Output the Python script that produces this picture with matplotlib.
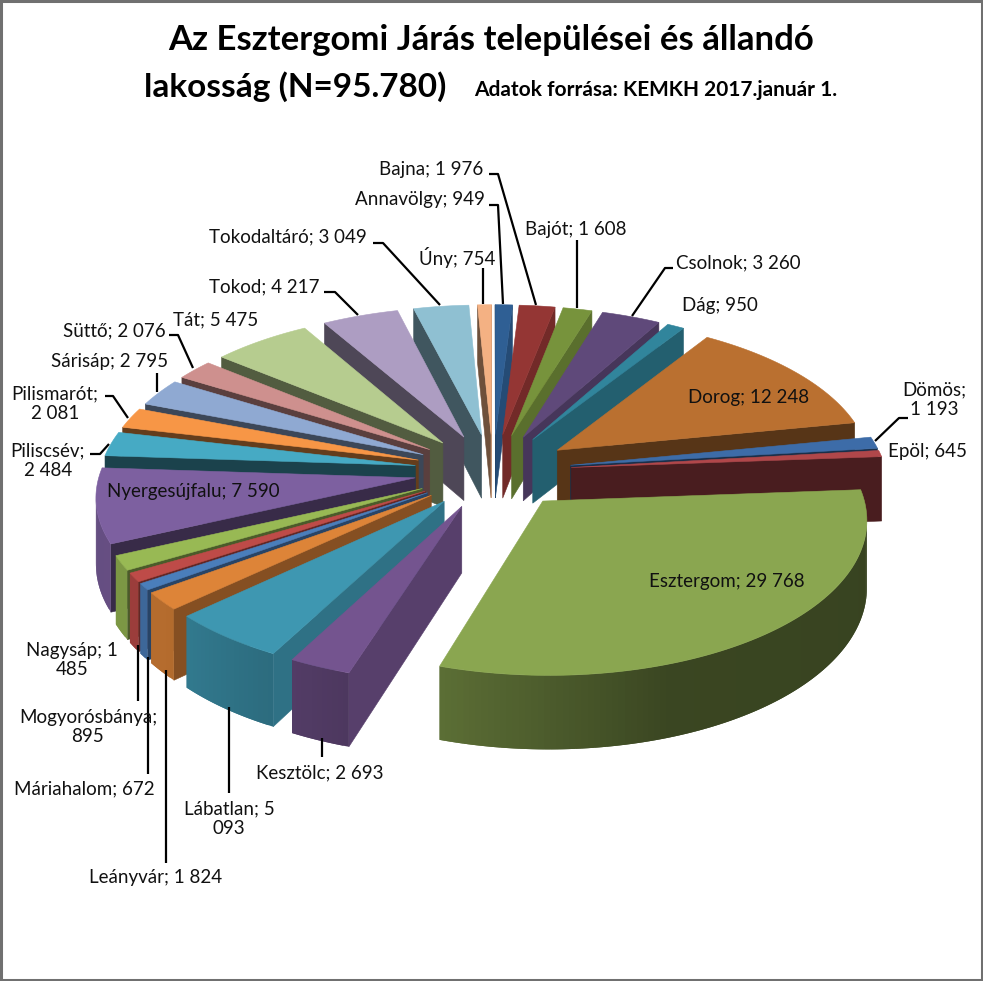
#!/usr/bin python3

import matplotlib
matplotlib.use('Agg')
import matplotlib.pyplot as plt
from matplotlib.patches import Polygon, Rectangle
import numpy as np

names = ['Annavölgy', 'Bajna', 'Bajót', 'Csolnok', 'Dág', 'Dorog', 'Dömös', 'Epöl',
         'Esztergom', 'Kesztölc', 'Lábatlan', 'Leányvár', 'Máriahalom', 'Mogyorósbánya',
         'Nagysáp', 'Nyergesújfalu', 'Piliscsév', 'Pilismarót', 'Sárisáp', 'Süttő',
         'Tát', 'Tokod', 'Tokodaltáró', 'Úny']
values = [949, 1976, 1608, 3260, 950, 12248, 1193, 645,
          29768, 2693, 5093, 1824, 672, 895,
          1485, 7590, 2484, 2081, 2795, 2076,
          5475, 4217, 3049, 754]
colors = ['#2F5F94', '#943634', '#77933C', '#5F497A', '#31859C', '#BA7030', '#3D6CA8', '#B0474A',
          '#8AA650', '#74548F', '#3E97B1', '#DD8438', '#4A7EBB', '#BE4B48',
          '#98B954', '#7D60A0', '#46AAC4', '#F79646', '#8FA9D2', '#CE908E',
          '#B6CC8F', '#AD9DC2', '#8FC0D2', '#F4B183']

# where a label has to break, as in the original
breaks = {'Dömös': 'Dömös;\n1 193', 'Lábatlan': 'Lábatlan; 5\n093', 'Mogyorósbánya': 'Mogyorósbánya;\n895',
          'Nagysáp': 'Nagysáp; 1\n485', 'Piliscsév': 'Piliscsév;\n2 484', 'Pilismarót': 'Pilismarót;\n2 081'}

label_pos = {'Annavölgy': (420, 199), 'Bajna': (431, 169), 'Bajót': (576, 229), 'Csolnok': (738, 263),
             'Dág': (720, 306), 'Dorog': (749, 397), 'Dömös': (934, 400), 'Epöl': (927, 452),
             'Esztergom': (727, 581), 'Kesztölc': (320, 773), 'Lábatlan': (229, 819), 'Leányvár': (156, 878),
             'Máriahalom': (84, 789), 'Mogyorósbánya': (88, 727), 'Nagysáp': (72, 660),
             'Nyergesújfalu': (193, 491), 'Piliscsév': (48, 461), 'Pilismarót': (55, 404),
             'Sárisáp': (110, 362), 'Süttő': (114, 331), 'Tát': (216, 320), 'Tokod': (264, 287),
             'Tokodaltáró': (288, 237), 'Úny': (457, 257)}

leaders = [[(489, 174), (498, 174), (536, 305)], [(489, 205), (498, 205), (503, 304)], [(577, 240), (577, 308)],
           [(673, 268), (665, 268), (632, 316)], [(483, 268), (483, 304)],
           [(373, 243), (383, 243), (440, 305)], [(324, 292), (335, 292), (358, 315)],
           [(169, 335), (178, 335), (193, 368)], [(157, 373), (157, 392)],
           [(105, 396), (113, 396), (128, 418)], [(90, 454), (100, 454), (109, 444)],
           [(908, 418), (899, 418), (875, 441)],
           [(138, 645), (138, 701)], [(148, 657), (148, 774)], [(166, 670), (166, 863)],
           [(229, 707), (229, 793)], [(322, 738), (322, 757)]]

# projection of the tilted pie
cx, cy = 493, 471
sx, px = 315, 0.105
sy, py = 150, 0.102
depth = 65
explode = 0.25


def proj(x, y, z=0):
    u = cx + sx * x / (1 + px * y)
    v = cy - sy * y / (1 + py * y) + depth * z / (1 + py * y)
    return u, v


def shade(col, f):
    return tuple(c * f for c in matplotlib.colors.to_rgb(col))


def area(pts):
    a = 0
    for i in range(len(pts)):
        x0, y0 = pts[i]
        x1, y1 = pts[(i + 1) % len(pts)]
        a += x0 * y1 - x1 * y0
    return a


def radial_factor(n):
    return np.interp(n % 360, [90, 108, 118, 137, 155, 169, 180, 219, 270], [.8, .75, .75, .6, .45, .47, .38, .45, .45])


def outer_factor(n):
    return np.interp(n % 360, [85, 160, 197, 230, 280], [.4, .42, .66, .82, .8])


plt.close('all')
fig = plt.figure(figsize=(9.83, 9.81), dpi=100)
ax = fig.add_axes([0, 0, 1, 1])
ax.set_xlim(0, 983)
ax.set_ylim(981, 0)
ax.axis('off')
plt.rcParams['font.family'] = ['Lato', 'DejaVu Sans']

fracs = np.array(values) / sum(values) * 360
ends = np.cumsum(fracs)
starts = ends - fracs
mids = (starts + ends) / 2

# back slices first
for i in np.argsort(-np.cos(np.radians(mids))):
    a0, a1, m = starts[i], ends[i], np.radians(mids[i])
    ox, oy = explode * np.sin(m), explode * np.cos(m)
    arc = np.radians(np.linspace(a0, a1, max(int(fracs[i]), 2) + 2))
    rim = [(ox + np.sin(t), oy + np.cos(t)) for t in arc]

    top = [proj(ox, oy)] + [proj(x, y) for x, y in rim]
    # radial walls
    first = [proj(ox, oy), proj(*rim[0]), proj(*rim[0], 1), proj(ox, oy, 1)]
    last = [proj(*rim[-1]), proj(ox, oy), proj(ox, oy, 1), proj(*rim[-1], 1)]
    for quad, n in ((first, a0 - 90), (last, a1 + 90)):
        if area(quad) < 0:
            f = shade(colors[i], radial_factor(n))
            ax.add_patch(Polygon(quad, closed=True, fc=f, ec=f, lw=0.4))
    # rim wall, strip by strip, each strip running on under the next one
    for j in range(len(rim) - 1):
        k = min(j + 2, len(rim) - 1)
        quad = [proj(*rim[j]), proj(*rim[k]), proj(*rim[k], 1), proj(*rim[j], 1)]
        if area(quad) < 0:
            f = shade(colors[i], outer_factor(np.degrees((arc[j] + arc[j + 1]) / 2)))
            ax.add_patch(Polygon(quad, closed=True, fc=f, ec='none', lw=0))
    ax.add_patch(Polygon(top, closed=True, fc=colors[i], ec=colors[i], lw=0.4))

for pts in leaders:
    ax.plot([p[0] for p in pts], [p[1] for p in pts], color='black', lw=1.6, solid_capstyle='butt')

for name, val in zip(names, values):
    txt = breaks.get(name, f'{name}; {val:,}'.replace(',', ' '))
    x, y = label_pos[name]
    ax.text(x, y, txt, ha='center', va='center', fontsize=13.5, color='#111111', linespacing=1.2)

ax.text(491, 40, 'Az Esztergomi Járás települései és állandó', ha='center', va='center',
        fontsize=25, fontweight='bold', color='black')
ax.text(295, 87, 'lakosság (N=95.780)', ha='center', va='center', fontsize=24, fontweight='bold', color='black')
ax.text(656, 90, 'Adatok forrása: KEMKH 2017.január 1.', ha='center', va='center',
        fontsize=15, fontweight='bold', color='black')

ax.add_patch(Rectangle((1, 1), 981, 979, fill=False, ec='#707070', lw=2.2))

fig.savefig('out.png', dpi=100)
